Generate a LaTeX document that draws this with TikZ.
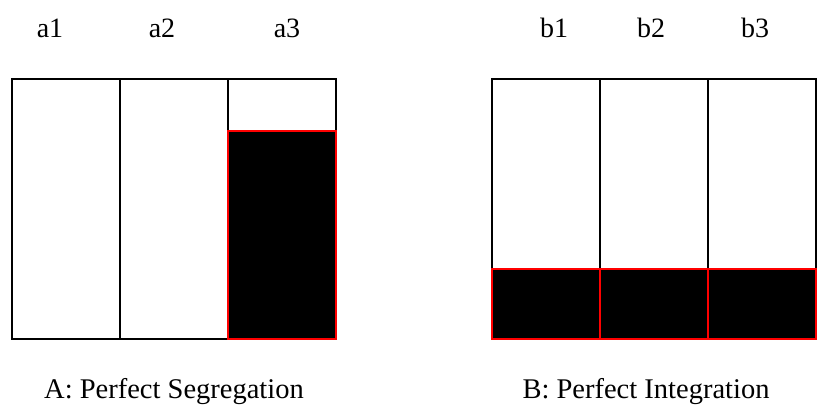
\documentclass[tikz,border=0pt]{standalone}
\usepackage{fontspec}
\setmainfont{Liberation Serif}
\usetikzlibrary{positioning}

\begin{document}
\begin{tikzpicture}[x=1pt,y=-1pt, line width=1.8pt,
    lab/.style={anchor=base, font=\fontsize{28}{32}\selectfont},
    caption/.style={anchor=base, font=\fontsize{28.5}{32}\selectfont},
    share/.style={fill=black, draw=red}]

\useasboundingbox (0,0) rectangle (817,418);

% column labels
\node[lab] (a1) at (50,37) {a1};
\node[lab] (a2) at (162,37) {a2};
\node[lab] (a3) at (287,37) {a3};
\node[lab] (b1) at (554,37) {b1};
\node[lab] (b2) at (651,37) {b2};
\node[lab] (b3) at (755,37) {b3};

% A: segregation
\draw (12,79) rectangle (120,339);
\draw (120,79) rectangle (228,339);
\draw (228,79) rectangle (336,339);
\draw[share] (228,131) rectangle (336,339);  %all in a3

% B: integration
\draw (492,79) rectangle (600,339);
\draw (600,79) rectangle (708,339);
\draw (708,79) rectangle (816,339);
\draw[share] (492,269) rectangle (600,339);  %same share everywhere
\draw[share] (600,269) rectangle (708,339);
\draw[share] (708,269) rectangle (816,339);

\node[caption] (capA) at (174,398) {A: Perfect Segregation};
\node[caption] (capB) at (646,398) {B: Perfect Integration};

\end{tikzpicture}
\end{document}
